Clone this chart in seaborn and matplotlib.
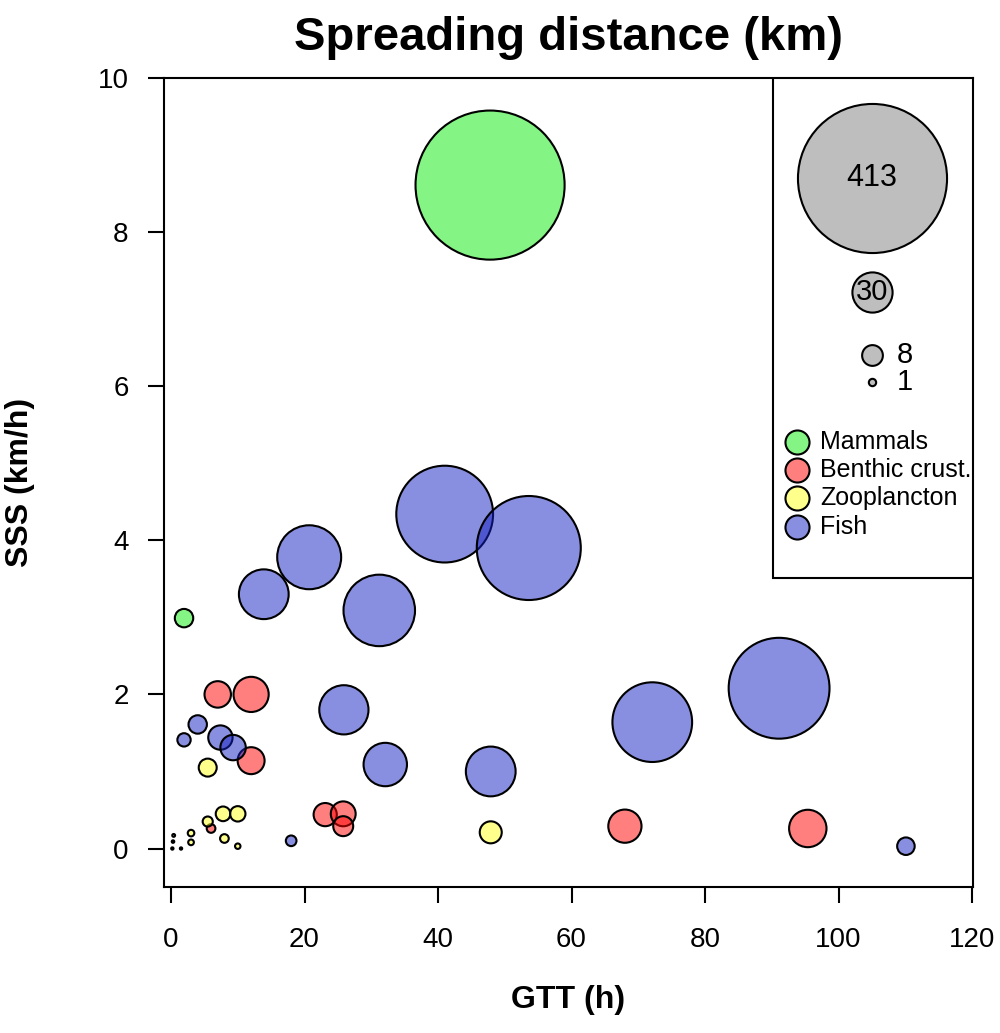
import numpy as np
import pandas as pd
import matplotlib
matplotlib.use("Agg")
import matplotlib.pyplot as plt
import seaborn as sns

# bubbles: GTT (h), SSS (km/h), spreading distance (km)
mammals_gtt = [47.8, 1.95]
mammals_sss = [8.61, 2.99]
mammals_dist = [413, 6.3]

benthic_gtt = [7.0, 12.0, 12.0, 23.1, 25.8, 25.8, 68.0, 95.4, 6.0]
benthic_sss = [2.0, 2.0, 1.14, 0.44, 0.45, 0.29, 0.29, 0.26, 0.26]
benthic_dist = [13, 23, 13.5, 10, 11.5, 7.4, 20.5, 26, 1.4]

zoo_gtt = [5.5, 7.8, 10.0, 5.5, 3.0, 3.0, 8.0, 10.0, 47.9, 0.4, 0.3, 0.2, 1.5]
zoo_sss = [1.05, 0.45, 0.45, 0.35, 0.2, 0.08, 0.13, 0.03, 0.21, 0.17, 0.09, 0.0, 0.0]
zoo_dist = [6, 4, 4.4, 1.9, 0.8, 0.6, 1.4, 0.55, 9, 0.15, 0.12, 0.1, 0.1]

fish_gtt = [41.0, 53.6, 20.7, 13.9, 31.2, 25.9, 32.1, 47.9, 72.1, 91.1, 110.1,
            18.0, 4.0, 1.95, 7.4, 9.3]
fish_sss = [4.34, 3.9, 3.78, 3.30, 3.09, 1.8, 1.09, 1.0, 1.64, 2.08, 0.03,
            0.1, 1.61, 1.41, 1.44, 1.31]
fish_dist = [174, 201, 76, 46, 95, 45, 35, 46, 118, 189, 5.7,
             2.1, 6.3, 3.3, 11, 12]

groups = ["Mammals", "Benthic crust.", "Zooplancton", "Fish"]
ref_sizes = [413, 30, 8, 1]

colors = {
    "Mammals": (0.04, 0.93, 0.04, 0.5),
    "Benthic crust.": (1.0, 0.0, 0.0, 0.5),
    "Zooplancton": (1.0, 1.0, 0.1, 0.5),
    "Fish": (0.08, 0.13, 0.76, 0.5),
}

df = pd.concat([
    pd.DataFrame({"gtt": mammals_gtt, "sss": mammals_sss, "dist": mammals_dist, "grp": "Mammals"}),
    pd.DataFrame({"gtt": benthic_gtt, "sss": benthic_sss, "dist": benthic_dist, "grp": "Benthic crust."}),
    pd.DataFrame({"gtt": zoo_gtt, "sss": zoo_sss, "dist": zoo_dist, "grp": "Zooplancton"}),
    pd.DataFrame({"gtt": fish_gtt, "sss": fish_sss, "dist": fish_dist, "grp": "Fish"}),
], ignore_index=True)

sns.set_style("ticks")
plt.rcParams["font.family"] = ["Liberation Sans", "DejaVu Sans"]
plt.rcParams["text.color"] = "black"
plt.rcParams["axes.labelcolor"] = "black"

# marker area in pt^2 per km (area proportional to distance)
k = 27.9

fig = plt.figure(figsize=(10, 10.33), dpi=100)
ax = fig.add_axes([0.164, 0.1413, 0.809, 0.7832])

sns.scatterplot(data=df, x="gtt", y="sss", hue="grp", size="dist",
                palette=colors, hue_order=groups,
                sizes=(0, k * max(ref_sizes)), size_norm=(0, max(ref_sizes)),
                edgecolor="black", linewidth=1.5, legend=False, ax=ax, zorder=3)

ax.set_xlim(-1.05, 120.15)
ax.set_ylim(-0.5, 10)
ax.set_xticks([0, 20, 40, 60, 80, 100, 120])
ax.set_yticks([0, 2, 4, 6, 8, 10])
ax.tick_params(axis="both", direction="out", length=11.5, width=1.5,
               labelsize=20, color="black", labelcolor="black")
ax.tick_params(axis="x", pad=17)
ax.tick_params(axis="y", pad=14)
for sp in ax.spines.values():
    sp.set_visible(True)
    sp.set_linewidth(1.5)
    sp.set_color("black")

ax.set_xlabel("GTT (h)", fontsize=23, fontweight="bold", va="center", color="black")
ax.set_ylabel("SSS (km/h)", fontsize=23, fontweight="bold", va="center", color="black")
ax.xaxis.set_label_coords(0.5, -0.14)
ax.yaxis.set_label_coords(-0.178, 0.5)
ax.set_title("Spreading distance (km)", fontsize=34, fontweight="bold", pad=20,
             color="black")

# legend box, top right
box = plt.Rectangle((0.753, 0.382), 0.247, 0.618, transform=ax.transAxes,
                    facecolor="white", edgecolor="black", linewidth=1.5, zorder=4)
ax.add_patch(box)

ref_y = [0.876, 0.7355, 0.6576, 0.624]
for v, yy in zip(ref_sizes, ref_y):
    ax.scatter([0.875], [yy], s=k * v, transform=ax.transAxes, facecolor="#bebebe",
               edgecolor="black", linewidth=1.5, zorder=5, clip_on=False)
ax.text(0.875, ref_y[0], "413", transform=ax.transAxes, ha="center", va="center",
        fontsize=22, zorder=6)
ax.text(0.875, ref_y[1], "30", transform=ax.transAxes, ha="center", va="center",
        fontsize=21, zorder=6)
ax.text(0.906, ref_y[2], "8", transform=ax.transAxes, ha="left", va="center",
        fontsize=21, zorder=6)
ax.text(0.906, ref_y[3], "1", transform=ax.transAxes, ha="left", va="center",
        fontsize=21, zorder=6)

cat_y = [0.550, 0.515, 0.481, 0.445]
for g, yy in zip(groups, cat_y):
    ax.scatter([0.782], [yy], s=300, transform=ax.transAxes, facecolor=colors[g],
               edgecolor="black", linewidth=1.5, zorder=5, clip_on=False)
    ax.text(0.811, yy, g, transform=ax.transAxes, ha="left", va="center",
            fontsize=18, zorder=6)

fig.savefig("out.png", dpi=100, facecolor="white")
